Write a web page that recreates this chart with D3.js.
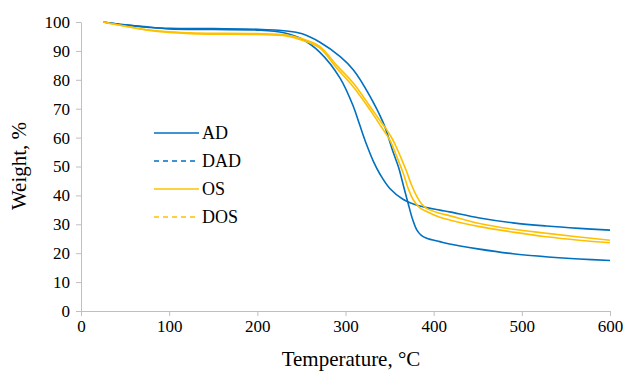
<!DOCTYPE html>
<html><head><meta charset="utf-8">
<script src="https://cdn.jsdelivr.net/npm/d3@7"></script>
<style>body{margin:0;background:#fff}</style>
</head><body>
<svg id="c" width="629" height="371"></svg>
<script>
const seriesNames = ["AD","DAD","OS","DOS"];
const seriesColors = ["#0070C0","#0070C0","#FFC000","#FFC000"];
const seriesDash = [false,true,false,true];
const AD = [[25,100],[50,99],[75,98.2],[100,97.6],[150,97.4],[200,97.2],[230,96.3],[250,94.2],[271,89.5],[294,80.5],[309,70.7],[316,64.5],[324,57.5],[332,51.5],[339,47.4],[350,42.5],[365.6,38.6],[381,36.6],[407,34.9],[418,34.3],[452,32.2],[490,30.5],[528,29.4],[565,28.6],[600,28]];
const DAD = [[25,100],[50,99],[75,98.3],[100,97.8],[150,97.7],[200,97.5],[233,96.9],[250,96],[271,93],[294,88],[309,83.4],[328,74.2],[343,65],[349,59.8],[354,55],[360,49.9],[366,43],[371,37.3],[376,31.8],[381,28],[386,26.2],[392,25.2],[407,24],[418,23.2],[450,21.5],[490,19.8],[530,18.7],[565,18],[600,17.5]];
const OS = [[25,100],[50,98.6],[75,97.3],[100,96.6],[130,96.2],[200,96],[233,95.5],[250,94.3],[271,91.5],[290,85],[309,78.8],[328,70.7],[340,65.5],[347,62.6],[353,59.6],[358,56.5],[363,53],[369,48.5],[375,43.5],[381,39.6],[386,37.2],[392,35.5],[407,33.8],[418,33],[452,30.3],[490,28.3],[528,26.9],[565,25.6],[600,24.5]];
const DOS = [[25,100],[50,98.5],[75,97.2],[100,96.4],[130,95.9],[200,95.7],[233,95.2],[250,93.8],[271,91],[290,84],[309,77.5],[328,69.5],[340,64],[350.5,59],[358,53.5],[365.6,47.6],[371,42.5],[377,38.4],[384,35.8],[392,34.4],[407,32.4],[418,31.5],[452,29.2],[490,27.3],[528,25.7],[565,24.5],[600,23.6]];
const xTicks = [0,100,200,300,400,500,600];
const yTicks = [0,10,20,30,40,50,60,70,80,90,100];
const allData = [AD,DAD,OS,DOS];

const svg = d3.select("#c");
const x = d3.scaleLinear().domain([0,600]).range([81,610]);
const y = d3.scaleLinear().domain([0,100]).range([311,22]);
const font = "'Liberation Serif', 'Times New Roman', serif";

const xa = svg.append("g").attr("transform","translate(0,311)")
  .call(d3.axisBottom(x).tickValues(xTicks).tickSize(5).tickPadding(4).tickSizeOuter(0));
const ya = svg.append("g").attr("transform","translate(81,0)")
  .call(d3.axisLeft(y).tickValues(yTicks).tickSize(5).tickPadding(6).tickSizeOuter(0));
[xa,ya].forEach(a=>{
  a.attr("font-family",null).attr("font-size",null);
  a.selectAll("path,line").attr("stroke","#bfbfbf");
  a.selectAll("text").style("font-family",font).style("font-size","17px").attr("fill","#000");
});

const line = d3.line().x(d=>x(d[0])).y(d=>y(d[1])).curve(d3.curveCatmullRom.alpha(0.5));
allData.forEach((d,i)=>{
  svg.append("path").datum(d).attr("d",line).attr("fill","none")
    .attr("stroke",seriesColors[i]).attr("stroke-width",1.6);
});

// legend
const ly = [133,161,189,217];
seriesNames.forEach((n,i)=>{
  svg.append("line").attr("x1",154).attr("x2",199).attr("y1",ly[i]).attr("y2",ly[i])
    .attr("stroke",seriesColors[i]).attr("stroke-width",1.6)
    .attr("stroke-dasharray",seriesDash[i]?"5,4":null);
  svg.append("text").attr("x",202).attr("y",ly[i]+6).text(n)
    .style("font-family",font).style("font-size","18px").attr("fill","#000");
});

svg.append("text").attr("transform","translate(26,166) rotate(-90)").attr("text-anchor","middle")
  .style("font-family",font).style("font-size","21px").text("Weight, %");
svg.append("text").attr("x",351).attr("y",366).attr("text-anchor","middle")
  .style("font-family",font).style("font-size","21px").text("Temperature, °C");
</script>
</body></html>
